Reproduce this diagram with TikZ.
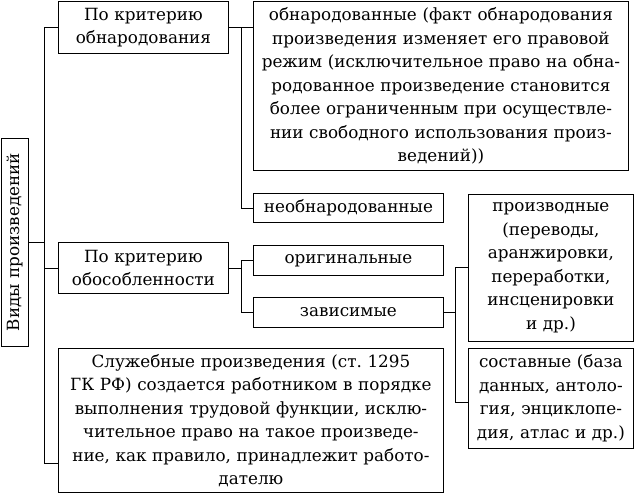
\documentclass[tikz,border=0pt]{standalone}
\usepackage{fontspec}
\setmainfont{DejaVu Serif}
\usetikzlibrary{positioning}

\begin{document}
\begin{tikzpicture}[
    x=1pt, y=-1pt,
    box/.style={draw, thick, anchor=north west, inner xsep=2pt, inner ysep=0pt,
                font=\fontsize{16.8}{23.5}\selectfont, align=center},
    link/.style={draw, thick}
]
\useasboundingbox (0,0) rectangle (638,496);

% ============================================================
% ROOT (vertical)
% ============================================================
\node[draw, thick, rotate=90, minimum width=208pt, minimum height=27pt, inner sep=0pt,
      font=\fontsize{16.8}{20}\selectfont] (root) at (14.5,242) {Виды произведений};

% ============================================================
% FIRST LEVEL
% ============================================================
\node[box, text width=166pt, minimum height=52pt] (publ) at (58,1) {По критерию\\обнародования};
\node[box, text width=166pt, minimum height=51pt] (sep) at (58,242) {По критерию\\обособленности};
\node[box, text width=381pt, minimum height=144pt] (serv) at (58,348)
  {Служебные произведения (ст.~1295\\ГК РФ) создается работником в порядке\\выполнения трудовой функции, исклю-\\чительное право на такое произведе-\\ние, как правило, принадлежит работо-\\дателю};

% ============================================================
% SECOND LEVEL
% ============================================================
\node[box, text width=371pt, minimum height=169pt] (pub) at (253,1)
  {обнародованные (факт обнародования\\произведения изменяет его правовой\\режим (исключительное право на обна-\\родованное произведение становится\\более ограниченным при осуществле-\\нии свободного использования произ-\\ведений))};
\node[box, text width=186pt, minimum height=29pt] (unpub) at (253,193) {необнародованные};
\node[box, text width=186pt, minimum height=30pt] (orig) at (253,245) {оригинальные};
\node[box, text width=186pt, minimum height=30pt] (dep) at (253,297) {зависимые};

% ============================================================
% THIRD LEVEL
% ============================================================
\node[box, text width=161pt, minimum height=147pt] (deriv) at (468,194)
  {производные\\(переводы,\\аранжировки,\\переработки,\\инсценировки\\и др.)};
\node[box, text width=161pt, minimum height=100pt] (comp) at (468,348)
  {составные (база\\данных, антоло-\\гия, энциклопе-\\дия, атлас и др.)};

% ============================================================
% CONNECTIONS
% ============================================================
\coordinate (trunk) at (44,0);
\coordinate (fork1) at (241,0);
\coordinate (fork2) at (455,0);

\draw[link] (root.south) -- (trunk |- root.south);
\draw[link] (trunk |- publ.west) -- (trunk |- 0,463);
\draw[link] (trunk |- publ.west) -- (publ.west);
\draw[link] (trunk |- sep.west) -- (sep.west);
\draw[link] (trunk |- 0,463) -- (serv.west |- 0,463);

\draw[link] (publ.east) -- (pub.west |- publ.east);
\draw[link] (fork1 |- publ.east) -- (fork1 |- unpub.west) -- (unpub.west);

\draw[link] (sep.east) -- (fork1 |- sep.east);
\draw[link] (orig.west) -- (fork1 |- orig.west) -- (fork1 |- dep.west) -- (dep.west);

\draw[link] (dep.east) -- (fork2 |- dep.east);
\draw[link] (deriv.west |- 0,267) -- (fork2 |- 0,267) -- (fork2 |- 0,402) -- (comp.west |- 0,402);

\end{tikzpicture}
\end{document}
